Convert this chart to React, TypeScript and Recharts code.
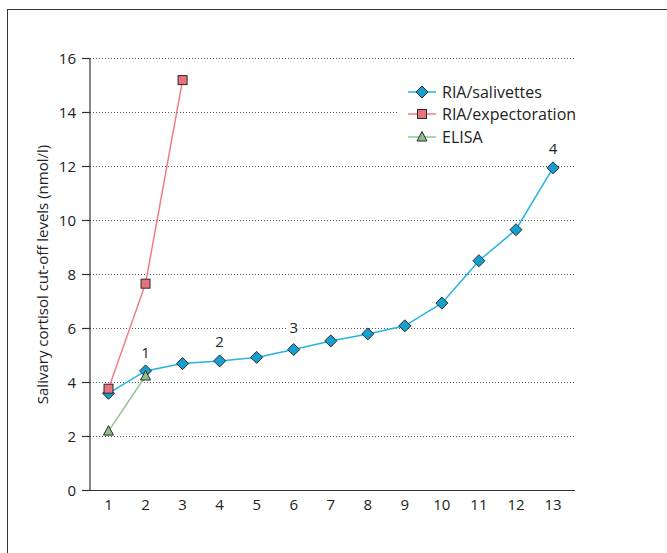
import React from 'react'
import {
  LineChart,
  Line,
  XAxis,
  YAxis,
  CartesianGrid,
  Legend,
  ReferenceDot,
} from 'recharts'

const categories = ['1', '2', '3', '4', '5', '6', '7', '8', '9', '10', '11', '12', '13']
const salivettes = [3.6, 4.43, 4.7, 4.8, 4.93, 5.22, 5.54, 5.8, 6.1, 6.94, 8.51, 9.66, 11.95]
const expectoration = [3.77, 7.66, 15.2]
const elisa = [2.2, 4.24]
const yTicks = [0, 2, 4, 6, 8, 10, 12, 14, 16]
const annotations = [
  { cat: '2', y: 5.13, text: '1' },
  { cat: '4', y: 5.55, text: '2' },
  { cat: '6', y: 6.07, text: '3' },
  { cat: '13', y: 12.7, text: '4' },
]

const data = categories.map((c, i) => ({
  cat: c,
  sal: salivettes[i],
  exp: expectoration[i],
  eli: elisa[i],
}))

const FONT = '"Open Sans", "DejaVu Sans", sans-serif'
const BLUE_LINE = '#22b4e4'
const BLUE_FILL = '#169fd0'
const RED_LINE = '#f07d85'
const RED_FILL = '#e8737c'
const GREEN_LINE = '#93c493'
const GREEN_FILL = '#8dbf8c'
const EDGE = '#2b2b2b'

const Diamond = ({ cx, cy }: { cx?: number; cy?: number }) => {
  if (cx == null || cy == null) return null
  const r = 6
  return (
    <path
      d={`M${cx},${cy - r}L${cx + r},${cy}L${cx},${cy + r}L${cx - r},${cy}Z`}
      fill={BLUE_FILL}
      stroke={EDGE}
      strokeWidth={1}
    />
  )
}

const Square = ({ cx, cy }: { cx?: number; cy?: number }) => {
  if (cx == null || cy == null) return null
  return <rect x={cx - 4.5} y={cy - 4.5} width={9} height={9} fill={RED_FILL} stroke={EDGE} strokeWidth={1} />
}

const Triangle = ({ cx, cy }: { cx?: number; cy?: number }) => {
  if (cx == null || cy == null) return null
  return (
    <path
      d={`M${cx},${cy - 5.5}L${cx + 5},${cy + 4}L${cx - 5},${cy + 4}Z`}
      fill={GREEN_FILL}
      stroke={EDGE}
      strokeWidth={1}
    />
  )
}

// number above the blue curve, with a white patch so the dotted grid stops round it
const AnnotationMark = ({ cx, cy, text }: { cx?: number; cy?: number; text: string }) => {
  if (cx == null || cy == null) return null
  return (
    <g>
      <rect x={cx - 7} y={cy - 9} width={14} height={18} fill="#fff" />
      <text
        x={cx}
        y={cy}
        textAnchor="middle"
        dominantBaseline="central"
        fill="#222"
        fontSize={15}
        fontFamily={FONT}
      >
        {text}
      </text>
    </g>
  )
}

const legendRows = [
  { name: 'RIA/salivettes', line: BLUE_LINE, Icon: Diamond },
  { name: 'RIA/expectoration', line: RED_LINE, Icon: Square },
  { name: 'ELISA', line: GREEN_LINE, Icon: Triangle },
]

const LegendBox = () => (
  <div>
    {legendRows.map(row => (
      <div key={row.name} style={{ height: 22.3 }}>
        <div
          style={{
            display: 'inline-flex',
            alignItems: 'center',
            height: 22,
            background: '#fff',
            paddingLeft: 8,
            paddingRight: 2,
          }}
        >
          <svg width={36} height={16} style={{ marginRight: 1 }}>
            <line x1={3} y1={8} x2={31} y2={8} stroke={row.line} strokeWidth={1.5} />
            <row.Icon cx={17} cy={8} />
          </svg>
          <span style={{ fontSize: 16, color: '#222', fontFamily: FONT }}>{row.name}</span>
        </div>
      </div>
    ))}
  </div>
)

export default function App() {
  return (
    <div
      style={{
        position: 'absolute',
        left: 0,
        top: 0,
        width: 667,
        height: 553,
        overflow: 'hidden',
        background: '#fff',
        fontFamily: FONT,
      }}
    >
      <div
        style={{
          position: 'absolute',
          left: 7,
          top: 9,
          width: 700,
          height: 600,
          borderLeft: '1.5px solid #333',
          borderTop: '1.5px solid #333',
        }}
      />
      <LineChart
        width={667}
        height={553}
        data={data}
        margin={{ top: 58.5, right: 92, bottom: 32.5, left: 0 }}
        style={{ position: 'absolute', left: 0, top: 0 }}
      >
        <CartesianGrid vertical={false} stroke="#555" strokeDasharray="1 2" />
        <XAxis
          dataKey="cat"
          axisLine={{ stroke: '#333', strokeWidth: 1.2 }}
          tickLine={false}
          tickSize={6}
          tickMargin={3}
          height={30}
          padding={{ left: 18.5, right: 22 }}
          tick={{ fill: '#222', fontSize: 15, fontFamily: FONT }}
        />
        <YAxis
          domain={[0, 16]}
          ticks={yTicks}
          width={90}
          tickSize={8}
          tickMargin={6}
          axisLine={{ stroke: '#333', strokeWidth: 1.2 }}
          tickLine={{ stroke: '#333', strokeWidth: 1.2 }}
          tick={{ fill: '#222', fontSize: 15, fontFamily: FONT }}
          label={{
            value: 'Salivary cortisol cut-off levels (nmol/l)',
            angle: -90,
            position: 'insideLeft',
            offset: 43,
            fill: '#222',
            fontSize: 15,
            fontFamily: FONT,
            style: { textAnchor: 'middle' },
          }}
        />
        <Legend
          layout="vertical"
          align="center"
          verticalAlign="middle"
          content={<LegendBox />}
          wrapperStyle={{ left: 397, top: 81, width: 200 }}
        />
        {annotations.map(a => (
          <ReferenceDot
            key={a.text}
            x={a.cat}
            y={a.y}
            r={0}
            shape={(p: any) => <AnnotationMark cx={p.cx} cy={p.cy} text={a.text} />}
          />
        ))}
        <Line
          dataKey="sal"
          name="RIA/salivettes"
          stroke={BLUE_LINE}
          strokeWidth={1.5}
          dot={<Diamond />}
          activeDot={false}
          isAnimationActive={false}
        />
        <Line
          dataKey="exp"
          name="RIA/expectoration"
          stroke={RED_LINE}
          strokeWidth={1.5}
          dot={<Square />}
          activeDot={false}
          isAnimationActive={false}
        />
        <Line
          dataKey="eli"
          name="ELISA"
          stroke={GREEN_LINE}
          strokeWidth={1.5}
          dot={<Triangle />}
          activeDot={false}
          isAnimationActive={false}
        />
      </LineChart>
    </div>
  )
}
